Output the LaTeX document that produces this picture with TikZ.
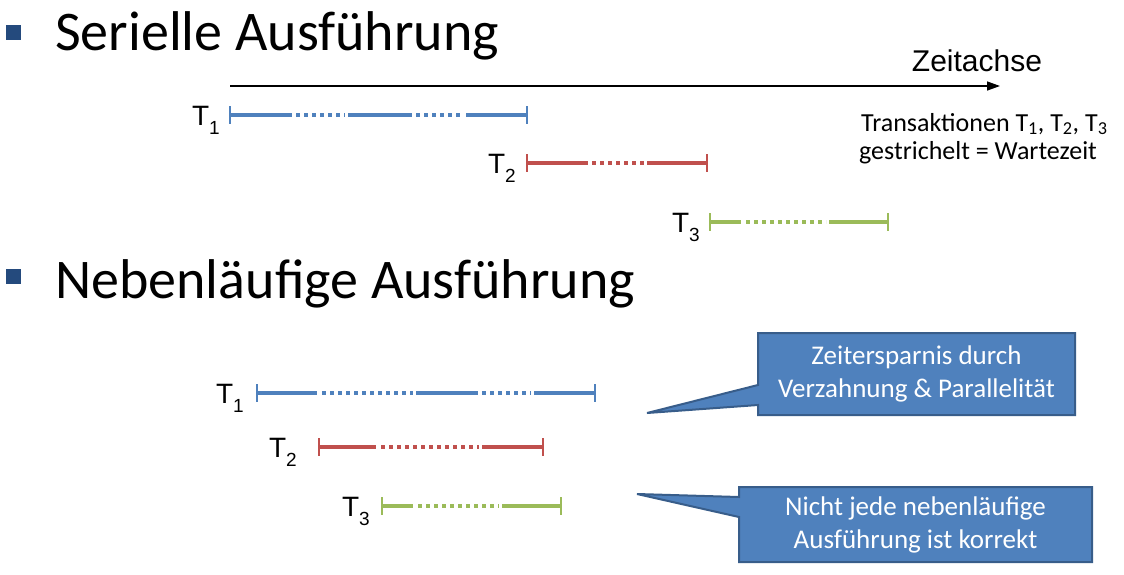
\documentclass[tikz,border=0pt]{standalone}
\usepackage{fontspec}
\setmainfont{Carlito}
\newfontfamily\arialf{Liberation Sans}
\usetikzlibrary{shapes.callouts,arrows.meta}
\definecolor{tblue}{HTML}{4F81BD}
\definecolor{tred}{HTML}{C0504D}
\definecolor{tgreen}{HTML}{9BBB59}
\definecolor{bulletc}{HTML}{244A7D}
\definecolor{cborder}{HTML}{385D8A}
\newcommand{\tlab}[1]{{\arialf\fontsize{28}{28}\selectfont T\raisebox{-9pt}{\fontsize{19}{19}\selectfont #1}}}
\newcommand{\tline}[5]{%
  \foreach \a/\b in {#3} {\draw[solidseg,#1] (\a,#2) -- (\b,#2);}
  \foreach \a/\b in {#4} {\draw[dotseg,#1] (\a,#2) -- (\b,#2);}
  \foreach \c in {#5} {\draw[endbar,#1] (\c,#2-9) -- (\c,#2+9);}
}
\begin{document}
\begin{tikzpicture}[x=1pt,y=-1pt,
  solidseg/.style={line width=3.8pt,line cap=butt},
  dotseg/.style={line width=3.8pt,line cap=butt,dash pattern=on 4pt off 4pt},
  endbar/.style={line width=2.6pt},
  heading/.style={anchor=base west,inner sep=0pt,font=\fontsize{56}{60}\selectfont},
  bulletsq/.style={fill=bulletc,minimum size=15pt,inner sep=0pt},
  tlabel/.style={anchor=base east,inner sep=0pt},
  legend/.style={anchor=base west,inner sep=0pt,font=\fontsize{26}{30}\selectfont},
  callbox/.style={rectangle callout,fill=tblue,draw=cborder,line width=2pt,text=white,
     align=center,font=\fontsize{27}{33}\selectfont,callout pointer width=20pt,inner sep=0pt}
]
\useasboundingbox (0,0) rectangle (1124,574);
% headings
\node[bulletsq] (b1) at (13.5,32.5) {};
\node[heading] (h1) at (55,50) {Serielle Ausführung};
\node[bulletsq] (b2) at (13.5,276) {};
\node[heading] (h2) at (55,298) {Nebenläufige Ausführung};
% time axis
\coordinate (a0) at (230,86);
\coordinate (a1) at (1000,86);
\draw[line width=1.4pt,-{Triangle[length=13pt,width=9pt]}] (a0) -- (a1);
\node[anchor=base,inner sep=0pt] (zeit) at (977,71) {\arialf\fontsize{30}{30}\selectfont Zeitachse};
\node[legend] (leg1) at (861,131) {Transaktionen T\textsubscript{1}, T\textsubscript{2}, T\textsubscript{3}};
\node[legend] (leg2) at (859,159) {gestrichelt = Wartezeit};
% serial
\node[tlabel] (s1) at (220,125) {\tlab{1}};
\tline{tblue}{115}{230/292,348/412,466/527}{296/345,416/463}{230,527}
\node[tlabel] (s2) at (516,173) {\tlab{2}};
\tline{tred}{163}{527/588,647/707}{592/644}{527,707}
\node[tlabel] (s3) at (700,232) {\tlab{3}};
\tline{tgreen}{222}{710/741,829/888}{746/826}{710,888}
% concurrent
\node[tlabel] (p1) at (244,403) {\tlab{1}};
\tline{tblue}{393}{257/317,416/478,534/595}{322/413,482/531}{257,595}
\node[tlabel] (p2) at (297,457) {\tlab{2}};
\tline{tred}{447}{319/376,482/543}{381/479}{319,543}
\node[tlabel] (p3) at (370,516) {\tlab{3}};
\tline{tgreen}{506}{382/413,502/561}{418/499}{382,561}
% callouts
\node[callbox,minimum width=317pt,minimum height=82pt,callout absolute pointer={(647,413)}] (c1) at (916.5,374) {Zeitersparnis durch\\Verzahnung \& Parallelität};
\node[callbox,minimum width=353pt,minimum height=75pt,callout absolute pointer={(637,494)}] (c2) at (915.5,524.5) {Nicht jede nebenläufige\\Ausführung ist korrekt};
\end{tikzpicture}
\end{document}
